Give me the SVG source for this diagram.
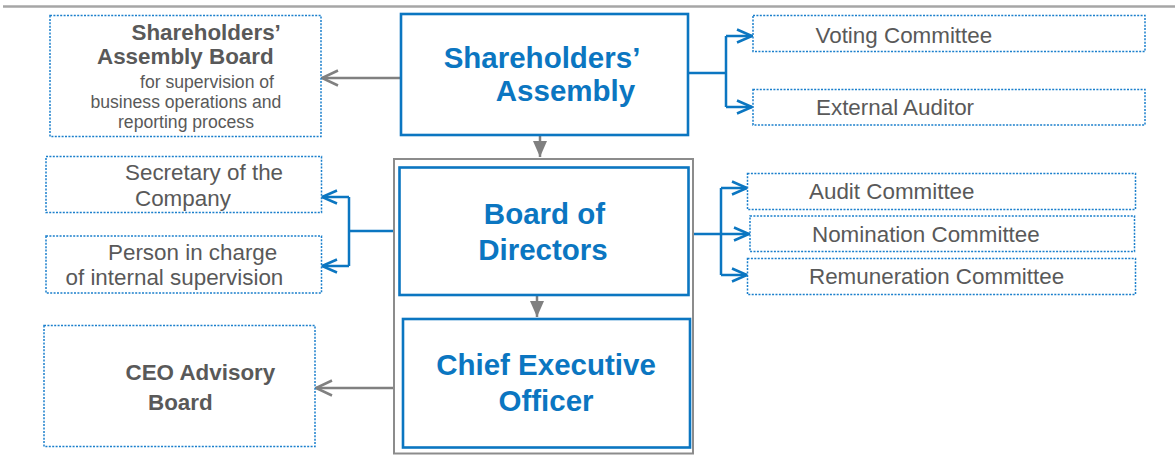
<svg xmlns="http://www.w3.org/2000/svg" width="1175" height="458" viewBox="0 0 1175 458">
<style>
.main{fill:#fff;stroke:#0b76c1;stroke-width:2.6}
.dot{fill:#fff;stroke:#1a7fcc;stroke-width:1.5;stroke-dasharray:2 1.4}
.outer{fill:none;stroke:#8c8c8c;stroke-width:2}
.tm{font-family:"Liberation Sans",Arial,sans-serif;font-weight:bold;font-size:29.5px;fill:#0b76c1;text-anchor:middle}
.tb{font-family:"Liberation Sans",Arial,sans-serif;font-weight:bold;font-size:22.4px;fill:#595959}
.tr{font-family:"Liberation Sans",Arial,sans-serif;font-size:22.4px;fill:#595959}
.ts{font-family:"Liberation Sans",Arial,sans-serif;font-size:17.6px;fill:#595959}
.cb{fill:none;stroke:#0b76c1;stroke-width:2.5}
.cg{fill:none;stroke:#808080;stroke-width:2.5}
</style>
<defs>
<marker id="ab" markerUnits="userSpaceOnUse" markerWidth="22" markerHeight="22" viewBox="0 0 22 22" refX="18" refY="11" orient="auto">
<path d="M3,4.5 L18,11 L3,17.5" fill="none" stroke="#0b76c1" stroke-width="2.5"/>
</marker>
<marker id="ag" markerUnits="userSpaceOnUse" markerWidth="22" markerHeight="22" viewBox="0 0 22 22" refX="18" refY="11" orient="auto">
<path d="M2,3.5 L18,11 L2,18.5" fill="none" stroke="#808080" stroke-width="2.5"/>
</marker>
<marker id="tg" markerUnits="userSpaceOnUse" markerWidth="20" markerHeight="20" viewBox="0 0 20 20" refX="17" refY="10" orient="auto">
<path d="M1,3 L17,10 L1,17 Z" fill="#808080"/>
</marker>
</defs>
<rect width="1175" height="458" fill="#fff"/>
<line x1="3" y1="6.5" x2="1175" y2="6.5" stroke="#a6a6a6" stroke-width="2.4"/>

<g id="connectors">
<path class="cg" d="M400,78 H322" marker-end="url(#ag)"/>
<path class="cg" d="M540,135 V157" marker-end="url(#tg)"/>
<path class="cb" d="M688,73 H726 M726,36 V107"/>
<path class="cb" d="M726,36 H752" marker-end="url(#ab)"/>
<path class="cb" d="M726,107 H752" marker-end="url(#ab)"/>
<path class="cb" d="M394,231 H349 M349,197 V266"/>
<path class="cb" d="M349,197 H322" marker-end="url(#ab)"/>
<path class="cb" d="M349,266 H322" marker-end="url(#ab)"/>
<path class="cb" d="M721,188 V275"/>
<path class="cb" d="M693,234 H749" marker-end="url(#ab)"/>
<path class="cb" d="M721,188 H747" marker-end="url(#ab)"/>
<path class="cb" d="M721,275 H747" marker-end="url(#ab)"/>
<path class="cg" d="M537,295 V317" marker-end="url(#tg)"/>
<path class="cg" d="M394,388 H316" marker-end="url(#ag)"/>
</g>

<g id="sh-assembly-board">
<rect class="dot" x="50" y="15.5" width="271" height="121"/>
<text class="tb" x="131.5" y="40">Shareholders’</text>
<text class="tb" x="97" y="64">Assembly Board</text>
<text class="ts" x="140" y="87.5">for supervision of</text>
<text class="ts" x="90.5" y="107.5">business operations and</text>
<text class="ts" x="118" y="128">reporting process</text>
</g>

<g id="sh-assembly">
<rect class="main" x="401" y="14" width="287" height="121"/>
<text class="tm" x="542" y="67.5">Shareholders’</text>
<text class="tm" x="565.5" y="101">Assembly</text>
</g>

<g id="voting-committee">
<rect class="dot" x="753" y="15.5" width="392" height="36"/>
<text class="tr" x="815.5" y="42.5">Voting Committee</text>
</g>

<g id="external-auditor">
<rect class="dot" x="753" y="89.5" width="392" height="35.5"/>
<text class="tr" x="816" y="115">External Auditor</text>
</g>

<g id="management-frame">
<rect class="outer" x="394" y="159" width="299" height="294.5"/>
</g>

<g id="board-of-directors">
<rect class="main" x="399.5" y="167.5" width="289" height="127.5"/>
<text class="tm" x="544.5" y="223.5">Board of</text>
<text class="tm" x="543" y="259.5">Directors</text>
</g>

<g id="ceo">
<rect class="main" x="403" y="319" width="287" height="128.5"/>
<text class="tm" x="546" y="375">Chief Executive</text>
<text class="tm" x="546" y="411">Officer</text>
</g>

<g id="secretary">
<rect class="dot" x="46" y="156.5" width="275.5" height="56"/>
<text class="tr" x="125" y="180">Secretary of the</text>
<text class="tr" x="135" y="206">Company</text>
</g>

<g id="internal-supervision">
<rect class="dot" x="46" y="236" width="275.5" height="57"/>
<text class="tr" x="108" y="260">Person in charge</text>
<text class="tr" x="65.5" y="285">of internal supervision</text>
</g>

<g id="ceo-advisory-board">
<rect class="dot" x="44" y="325.5" width="271" height="121"/>
<text class="tb" x="125.5" y="380">CEO Advisory</text>
<text class="tb" x="148" y="409.5">Board</text>
</g>

<g id="audit-committee">
<rect class="dot" x="747.5" y="173.5" width="388" height="36"/>
<text class="tr" x="809" y="199">Audit Committee</text>
</g>

<g id="nomination-committee">
<rect class="dot" x="750" y="216" width="384.5" height="35.5"/>
<text class="tr" x="812" y="241.5">Nomination Committee</text>
</g>

<g id="remuneration-committee">
<rect class="dot" x="747.5" y="258.5" width="388" height="36"/>
<text class="tr" x="809" y="284">Remuneration Committee</text>
</g>
</svg>
